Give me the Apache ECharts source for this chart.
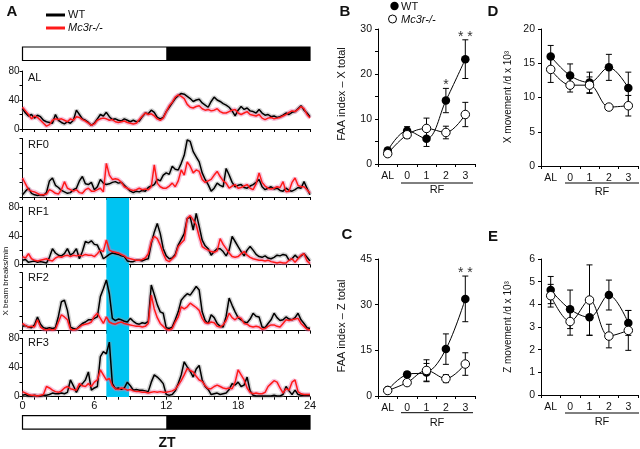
<!DOCTYPE html>
<html><head><meta charset="utf-8">
<script src="https://cdn.jsdelivr.net/npm/echarts/dist/echarts.min.js"></script>
<style>html,body{margin:0;padding:0;background:#fff}#c{width:640px;height:449px}</style>
</head><body><div id="c"></div>
<script>
// ---------------- DATA ----------------
// Panel A: X beam breaks/min, one value every 0.25 h from ZT0 to ZT24 (rows = hours)
const SAMPLE_STEP = 0.25;
const alWT = [28,22,18,20, 15,19,17,12, 10,9,8,20, 12,9,7,10, 8,12,26,20, 14,12,9,5, 8,14,20,18, 23,17,13,14, 12,11,14,12, 10,12,10,11, 17,22,21,26, 23,16,14,16,
  24,30,36,42, 46,49,48,45, 42,38,40,41, 36,33,30,38, 44,40,38,35, 33,30,25,18, 26,31,27,29, 25,24,22,27, 22,19,20,17, 18,16,17,19, 22,20,23,24, 28,32,26,22, 17];
const alKO = [30,25,20,14, 18,16,12,8, 4,6,12,14, 13,14,12,10, 14,12,17,16, 13,11,8,5, 7,12,14,15, 14,12,13,10, 9,10,11,9, 8,7,8,13, 18,22,20,21, 18,14,12,15,
  24,32,37,44, 47,45,42,34, 30,29,31,32, 28,26,27,25, 26,28,24,22, 22,24,26,27, 22,20,22,24, 20,19,18,20, 15,13,15,16, 14,15,16,18, 20,23,25,24, 27,31,28,20, 15];
const rf0WT = [3,8,12,5, 3,2,3,2, 6,22,26,16, 13,9,7,5, 6,10,12,22, 28,18,17,20, 10,14,24,19, 17,18,20,21, 19,20,16,12, 8,6,8,7, 9,8,13,15, 17,24,22,30,
  33,31,42,38, 37,46,57,78, 76,62,55,48, 33,24,17,8, 12,19,16,14, 39,30,20,14, 16,17,13,12, 15,17,20,24, 14,10,12,14, 11,12,9,8, 12,9,8,10, 13,12,21,12, 3];
const rf0KO = [26,18,10,8, 7,5,3,3, 4,10,8,5, 4,10,21,12, 10,8,10,6, 5,10,12,8, 8,10,12,7, 46,30,24,25, 24,20,14,12, 10,9,10,12, 10,11,10,14, 44,19,14,12,
  12,15,19,14, 22,37,30,48, 42,33,37,35, 24,20,22,24, 30,35,28,22, 19,12,15,17, 12,13,15,17, 12,10,18,33, 20,15,12,11, 12,14,13,21, 7,8,20,26, 16,14,14,10, 5];
const rf1WT = [6,7,3,4, 5,3,4,3, 2,10,22,16, 13,12,15,22, 13,16,22,8, 18,32,30,33, 28,27,18,8, 11,14,16,15, 14,12,11,5, 4,4,6,6, 5,7,8,29, 45,57,43,22,
  12,8,9,14, 27,35,43,64, 66,48,71,53, 34,26,22,13, 18,22,22,18, 12,20,39,32, 25,18,12,20, 25,20,14,11, 10,12,9,8, 10,13,12,14, 13,6,8,13, 9,12,15,10, 5];
const rf1KO = [11,9,15,8, 6,5,6,7, 8,6,5,9, 11,10,12,13, 11,13,12,13, 12,14,13,13, 11,15,20,18, 34,20,18,17, 16,14,12,9, 8,7,6,6, 7,9,15,32, 39,36,27,15,
  6,4,8,12, 25,30,34,64, 68,62,55,39, 25,22,20,18, 17,19,36,28, 22,16,11,10, 11,15,18,13, 10,8,7,6, 6,5,6,4, 3,2,3,2, 2,6,8,3, 8,13,15,5, 1];
const rf2WT = [6,7,5,4, 8,19,9,4, 3,4,3,4, 20,40,42,28, 5,3,2,6, 10,12,15,15, 17,19,47,58, 70,51,17,14, 16,15,13,12, 17,13,10,9, 11,10,13,63, 50,36,26,24,
  4,3,5,15, 26,42,47,51, 49,55,61,56, 26,14,10,22, 18,10,6,5, 20,45,35,26, 18,15,12,11, 16,24,20,19, 5,4,10,15, 24,18,14,15, 19,16,15,18, 24,15,10,4, 3];
const rf2KO = [10,7,5,6, 5,15,5,2, 1,2,1,2, 12,22,19,15, 2,1,2,5, 8,9,10,12, 20,24,17,10, 19,12,10,9, 11,12,10,9, 8,7,6,6, 5,6,10,49, 30,18,10,6,
  2,1,3,12, 19,33,30,33, 38,35,32,28, 17,11,10,12, 11,6,5,8, 14,24,18,15, 19,17,10,9, 6,5,6,5, 2,3,6,8, 8,6,5,10, 15,14,15,16, 17,10,6,2, 1];
const rf3WT = [2,3,1,1, 2,1,1,2, 2,3,5,4, 4,5,4,6, 23,15,6,14, 18,23,34,9, 12,14,55,62, 59,75,18,11, 12,10,12,20, 15,9,10,9, 9,8,7,20, 30,27,23,18,
  3,2,3,8, 18,30,48,41, 35,27,38,43, 23,14,10,3, 4,5,3,4, 5,10,18,16, 20,14,16,27, 8,2,1,1, 1,1,1,1, 2,1,1,3, 14,8,3,9, 3,2,2,2, 2];
const rf3KO = [7,5,3,2, 2,1,2,3, 14,12,9,7, 6,8,12,14, 11,10,9,18, 15,14,18,14, 20,23,37,30, 23,25,15,11, 10,12,11,9, 10,8,7,7, 6,6,5,6, 7,6,7,6,
  6,7,8,10, 16,22,30,39, 36,34,28,23, 21,15,11,11, 14,16,14,12, 11,12,11,20, 37,30,23,12, 6,4,5,4, 4,6,14,18, 22,20,12,5, 11,9,20,23, 7,4,3,3, 3];
const panelNames = ['AL', 'RF0', 'RF1', 'RF2', 'RF3'];
const darkPhase = [12, 24];      // ZT of dark phase
const feedingWindow = [7, 8.9];  // cyan band (ZT)
const ztTickLabels = [0, 6, 12, 18, 24];

// Panels B-E
const cats = ['AL', '0', '1', '2', '3'];
const faaX_WT = [3.0, 7.4, 5.6, 14.1, 23.3], faaX_WT_err = [0.5, 0.9, 1.7, 2.7, 4.3];
const faaX_KO = [2.3, 6.5, 7.9, 7.0, 11.0], faaX_KO_err = [0.4, 0.8, 2.3, 1.4, 2.7];
const faaX_sig = ['', '', '', '*', '* *'];
const faaZ_WT = [2.0, 7.1, 7.7, 15.4, 31.9], faaZ_WT_err = [0.5, 0.8, 3.0, 5.0, 7.5];
const faaZ_KO = [1.8, 4.4, 8.4, 5.7, 10.5], faaZ_KO_err = [0.4, 0.8, 3.5, 1.3, 3.7];
const faaZ_sig = ['', '', '', '', '* *'];
const movX_WT = [16.0, 13.2, 12.2, 14.4, 11.4], movX_WT_err = [1.6, 1.7, 1.5, 1.9, 2.3];
const movX_KO = [14.1, 11.8, 11.8, 8.6, 8.8], movX_KO_err = [1.9, 1.0, 1.2, 0.4, 1.5];
const movZ_WT = [4.63, 3.78, 3.43, 4.41, 3.18], movZ_WT_err = [0.6, 0.85, 0.8, 0.66, 0.55];
const movZ_KO = [4.38, 3.24, 4.19, 2.6, 2.85], movZ_KO_err = [0.5, 0.6, 1.55, 0.52, 0.88];

// ---------------- CHART ----------------
const FONT = 'Arial, "Liberation Sans", Helvetica, sans-serif';
const INK = '#111';
const chart = echarts.init(document.getElementById('c'), null, {renderer: 'canvas'});
const grids = [], xAxes = [], yAxes = [], series = [];
function addGrid(g, xa, ya) {
  grids.push(g); const gi = grids.length - 1;
  xa.gridIndex = gi; ya.gridIndex = gi; xAxes.push(xa); yAxes.push(ya); return gi;
}
const A_LEFT = 22.5, A_WIDTH = 287.5;
const axisBase = {
  axisLine: {show: true, lineStyle: {color: '#000', width: 1}},
  axisTick: {show: true, length: 3, lineStyle: {color: '#000', width: 1}},
  splitLine: {show: false}
};
function pairs(arr) { return arr.map((v, i) => [i * SAMPLE_STEP, v]); }

// light/dark bars
function addLD(top) {
  const gi = addGrid({left: A_LEFT, top: top, width: A_WIDTH, height: 13.5, show: true, borderColor: '#000', borderWidth: 1.2, backgroundColor: '#fff'},
    {type: 'value', min: 0, max: 24, show: false}, {type: 'value', min: 0, max: 1, show: false});
  series.push({type: 'line', xAxisIndex: gi, yAxisIndex: gi, data: [[darkPhase[0], 0.5], [darkPhase[1], 0.5]], showSymbol: false, silent: true,
    lineStyle: {opacity: 0}, markArea: {silent: true, itemStyle: {color: '#000'}, data: [[{xAxis: darkPhase[0]}, {xAxis: darkPhase[1]}]]}});
}
addLD(47);

const aLayout = [
  {top: 71, h: 58, ylab: true},
  {top: 138.5, h: 58.5, ylab: false},
  {top: 207, h: 57.5, ylab: true},
  {top: 272.7, h: 58, ylab: false},
  {top: 338.5, h: 58.2, ylab: true, xlab: true}
];
const aData = [[alWT, alKO], [rf0WT, rf0KO], [rf1WT, rf1KO], [rf2WT, rf2KO], [rf3WT, rf3KO]];
aLayout.forEach((p, k) => {
  const gi = addGrid({left: A_LEFT, top: p.top, width: A_WIDTH, height: p.h},
    Object.assign({type: 'value', min: 0, max: 24, interval: 1,
      axisLabel: {show: !!p.xlab, fontSize: 11, color: INK, fontFamily: FONT, margin: 4,
        formatter: v => ztTickLabels.indexOf(v) >= 0 ? String(v) : ''}}, axisBase),
    Object.assign({type: 'value', min: 0, max: 80, interval: 20,
      axisLabel: {show: p.ylab, fontSize: 10, color: INK, fontFamily: FONT, margin: 3,
        formatter: v => (v % 40 === 0 ? String(v) : '')}}, axisBase));
  const [wt, ko] = aData[k];
  const common = {type: 'line', xAxisIndex: gi, yAxisIndex: gi, showSymbol: false, silent: true, animation: false};
  series.push(Object.assign({}, common, {data: pairs(wt), z: 3, lineStyle: {width: 4.5, color: 'rgba(150,150,150,0.4)'}}));
  series.push(Object.assign({}, common, {data: pairs(ko), z: 3, lineStyle: {width: 4.5, color: 'rgba(235,110,170,0.4)'}}));
  series.push(Object.assign({}, common, {data: pairs(wt), z: 5, lineStyle: {width: 1.5, color: '#000'}}));
  series.push(Object.assign({}, common, {data: pairs(ko), z: 6, lineStyle: {width: 1.5, color: '#ff1a1a'}}));
});

// cyan feeding window band (RF1 - RF3)
{
  const gi = addGrid({left: A_LEFT, top: 198, width: A_WIDTH, height: 199},
    {type: 'value', min: 0, max: 24, show: false}, {type: 'value', min: 0, max: 1, show: false});
  series.push({type: 'line', xAxisIndex: gi, yAxisIndex: gi, z: 1, data: [[feedingWindow[0], 0.5], [feedingWindow[1], 0.5]],
    showSymbol: false, silent: true, lineStyle: {opacity: 0},
    markArea: {silent: true, itemStyle: {color: '#00c4f2'}, data: [[{xAxis: feedingWindow[0]}, {xAxis: feedingWindow[1]}]]}});
}
addLD(415.7);

// small panels
function errSeries(gi, vals, errs, sig) {
  return {type: 'custom', xAxisIndex: gi, yAxisIndex: gi, z: 4, silent: true,
    data: vals.map((v, i) => [i, v - errs[i], v + errs[i], sig ? sig[i] : '']),
    encode: {x: 0, y: [1, 2]},
    renderItem: (params, api) => {
      const x = api.value(0);
      const lo = api.coord([x, api.value(1)]);
      const hi = api.coord([x, api.value(2)]);
      const w = 3, st = {stroke: '#000', lineWidth: 1};
      const ch = [
        {type: 'line', shape: {x1: lo[0], y1: lo[1], x2: hi[0], y2: hi[1]}, style: st},
        {type: 'line', shape: {x1: lo[0] - w, y1: lo[1], x2: lo[0] + w, y2: lo[1]}, style: st},
        {type: 'line', shape: {x1: hi[0] - w, y1: hi[1], x2: hi[0] + w, y2: hi[1]}, style: st}
      ];
      const s = sig ? sig[params.dataIndex] : '';
      if (s) ch.push({type: 'text', x: hi[0], y: hi[1] - 3,
        style: {text: s, font: '14px ' + FONT, fill: '#333', align: 'center', verticalAlign: 'middle'}});
      return {type: 'group', children: ch};
    }};
}
function addSmall(g, ymin, ymax, yint, minor, wt, wtE, ko, koE, sig) {
  const gi = addGrid(g,
    Object.assign({type: 'category', data: cats, boundaryGap: true,
      axisLabel: {fontSize: 10.5, color: INK, fontFamily: FONT, margin: 7}}, axisBase),
    Object.assign({type: 'value', min: ymin, max: ymax, interval: yint,
      minorTick: {show: minor, splitNumber: 2, length: 3, lineStyle: {color: '#000'}},
      axisLabel: {fontSize: 10.5, color: INK, fontFamily: FONT, margin: 6}}, axisBase));
  series.push(errSeries(gi, wt, wtE, sig));
  series.push(errSeries(gi, ko, koE, null));
  series.push({type: 'line', xAxisIndex: gi, yAxisIndex: gi, data: wt, smooth: 0.35, symbol: 'circle', symbolSize: 8.5, z: 5, silent: true,
    itemStyle: {color: '#000'}, lineStyle: {color: '#000', width: 1}});
  series.push({type: 'line', xAxisIndex: gi, yAxisIndex: gi, data: ko, smooth: 0.35, symbol: 'circle', symbolSize: 8.5, z: 6, silent: true,
    itemStyle: {color: '#fff', borderColor: '#000', borderWidth: 1}, lineStyle: {color: '#000', width: 1}});
}
addSmall({left: 378, top: 29, width: 97, height: 135}, 0, 30, 10, true, faaX_WT, faaX_WT_err, faaX_KO, faaX_KO_err, faaX_sig);
addSmall({left: 378, top: 259, width: 97, height: 137}, 0, 45, 15, false, faaZ_WT, faaZ_WT_err, faaZ_KO, faaZ_KO_err, faaZ_sig);
addSmall({left: 541, top: 29, width: 97, height: 137}, 0, 20, 5, false, movX_WT, movX_WT_err, movX_KO, movX_KO_err, null);
addSmall({left: 541, top: 259, width: 97, height: 136}, 0, 6, 1, false, movZ_WT, movZ_WT_err, movZ_KO, movZ_KO_err, null);

// ---------------- annotations ----------------
function txt(x, y, text, o) {
  o = o || {};
  return {type: 'text', x: x, y: y, rotation: o.rot || 0, silent: true, z: 100,
    style: {text: text, font: (o.it ? 'italic ' : '') + (o.b ? 'bold ' : '') + (o.fs || 11) + 'px ' + FONT,
      fill: o.fill || INK, align: o.align || 'left', verticalAlign: 'middle'}};
}
function ln(x1, y1, x2, y2, c, w) {
  return {type: 'line', silent: true, z: 100, shape: {x1, y1, x2, y2}, style: {stroke: c || '#000', lineWidth: w || 1}};
}
const G = [];
G.push(txt(12, 12, 'A', {b: true, fs: 15, align: 'center'}));
G.push(ln(46, 15, 65, 15, '#000', 3), txt(68, 15, 'WT', {fs: 11}));
G.push(ln(46, 28, 65, 28, '#ff1a1a', 3), txt(68, 28, 'Mc3r-/-', {fs: 11, it: true}));
const nameY = [77.5, 145, 212, 278, 343];
panelNames.forEach((n, i) => G.push(txt(28, nameY[i], n, {fs: 11})));
G.push(txt(6, 281, 'X beam breaks/min', {fs: 8, rot: Math.PI / 2, align: 'center'}));
G.push(txt(167, 443, 'ZT', {b: true, fs: 14, align: 'center'}));
// panel letters
G.push(txt(345, 12, 'B', {b: true, fs: 15, align: 'center'}));
G.push(txt(347, 235, 'C', {b: true, fs: 15, align: 'center'}));
G.push(txt(493, 12, 'D', {b: true, fs: 15, align: 'center'}));
G.push(txt(493, 237, 'E', {b: true, fs: 15, align: 'center'}));
// legend B
G.push({type: 'circle', silent: true, z: 100, shape: {cx: 394.5, cy: 6, r: 4.2}, style: {fill: '#000'}});
G.push(txt(401, 6.5, 'WT', {fs: 11}));
G.push({type: 'circle', silent: true, z: 100, shape: {cx: 392.5, cy: 19, r: 4}, style: {fill: '#fff', stroke: '#000', lineWidth: 1}});
G.push(txt(401, 19.5, 'Mc3r-/-', {fs: 11, it: true}));
// y titles
G.push(txt(342, 94, 'FAA index \u2013 X total', {fs: 11, rot: Math.PI / 2, align: 'center'}));
G.push(txt(342, 326, 'FAA index \u2013 Z total', {fs: 11, rot: Math.PI / 2, align: 'center'}));
G.push(txt(508, 97, 'X movement /d x 10\u00b3', {fs: 10, rot: Math.PI / 2, align: 'center'}));
G.push(txt(508, 327, 'Z movement /d x 10\u00b3', {fs: 10, rot: Math.PI / 2, align: 'center'}));
// RF brackets
[[401, 473, 183, 190], [401, 473, 412.7, 423], [565, 639, 183, 192], [565, 639, 413, 422]].forEach(b => {
  G.push(ln(b[0], b[2], b[1], b[2], '#000', 1));
  G.push(txt((b[0] + b[1]) / 2, b[3], 'RF', {fs: 11, align: 'center'}));
});

chart.setOption({
  animation: false,
  backgroundColor: '#fff',
  textStyle: {fontFamily: FONT},
  grid: grids, xAxis: xAxes, yAxis: yAxes, series: series,
  graphic: G
});
</script></body></html>
